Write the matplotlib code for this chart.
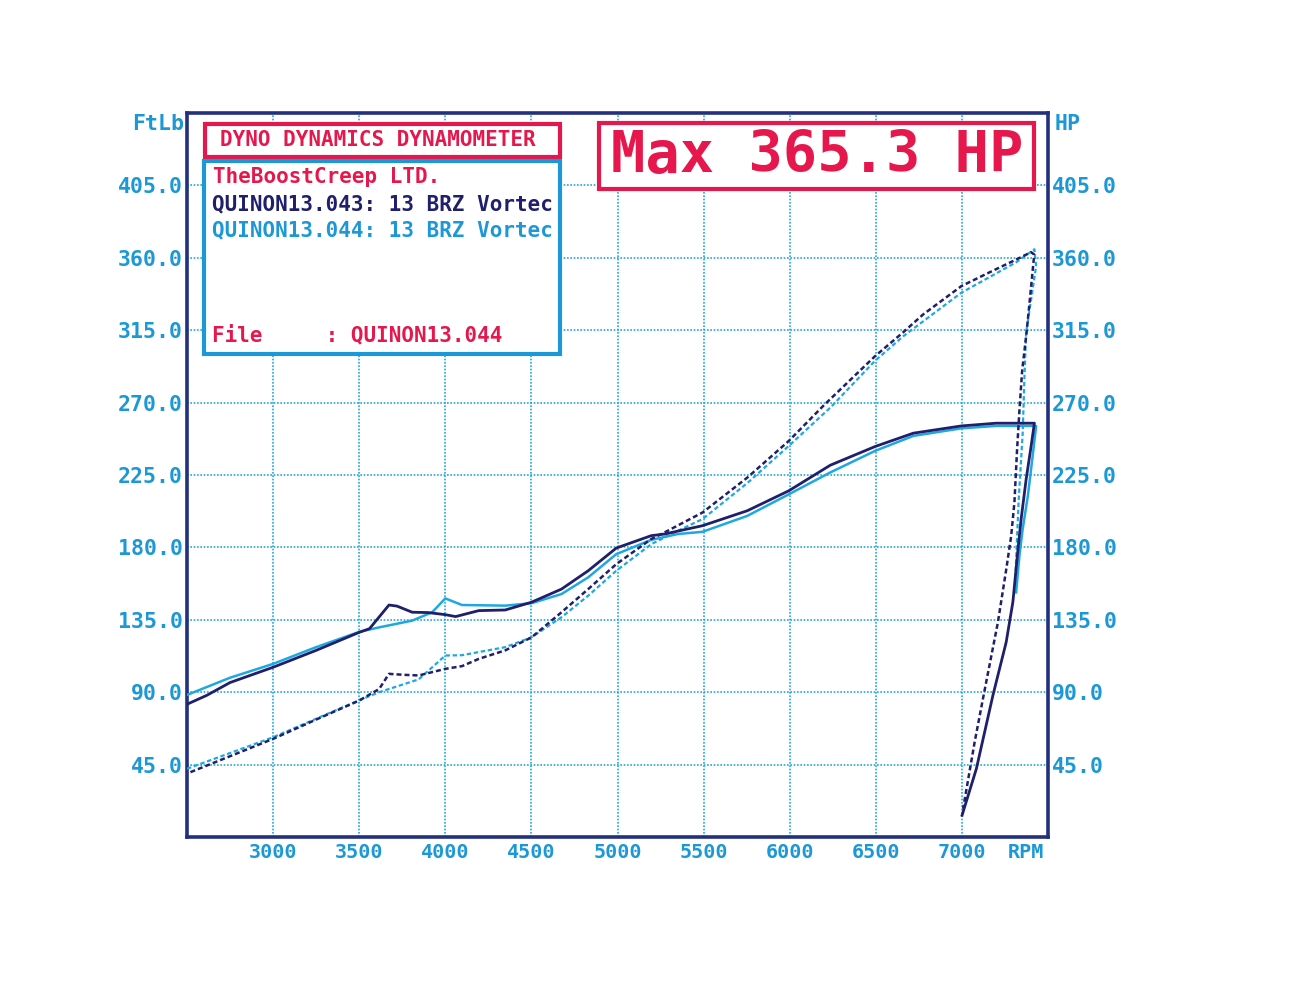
import matplotlib.pyplot as plt
from matplotlib.patches import Rectangle

# run QUINON13.043 (navy) - torque, ft-lb
rpm_tq_043 = [2500, 2614, 2750, 3000, 3250, 3500, 3560, 3673, 3720, 3808, 3900, 4000, 4060,
              4194, 4348, 4500, 4675, 4830, 4993, 5196, 5273, 5494, 5754, 5995, 6236, 6496,
              6718, 6997, 7199, 7421, 7402, 7373, 7344, 7324, 7296, 7257, 7180, 7084, 7001]
tq_043 = [82.5, 88, 96, 105.5, 116, 127.2, 129.5, 144.2, 143.5, 139.7, 139.5, 138.2, 137,
          140.7, 141.1, 145.9, 154.1, 165.5, 179.6, 187.3, 188.3, 193.5, 202.8, 215.2, 231.1, 242.7,
          251, 255.5, 257.2, 257.2, 243, 222.3, 197.6, 177, 146, 121, 88, 42.4, 13.5]

# run QUINON13.044 (cyan) - torque, ft-lb
rpm_tq_044 = [2500, 2750, 3000, 3250, 3500, 3616, 3808, 3924, 4000, 4097, 4348, 4500, 4675,
              4830, 4993, 5196, 5350, 5494, 5754, 5995, 6236, 6496, 6718, 6997, 7199, 7431,
              7411, 7383, 7353, 7334, 7315]
tq_044 = [88.3, 99, 107.6, 118, 127.5, 130.3, 134.5, 139.7, 148.3, 144.2, 143.8, 145.3, 151,
          161.4, 175.8, 184.7, 188.3, 189.7, 199.6, 213, 226.6, 240, 249.3, 254, 255.5, 255.5,
          236.8, 212, 191.4, 174.8, 152]

# power, hp
rpm_hp_043 = [2520, 3000, 3250, 3500, 3616, 3673, 3760, 3846, 4000, 4097, 4194, 4348, 4501,
              4675, 4830, 4993, 5196, 5273, 5494, 5754, 5995, 6198, 6496, 6660, 6775, 6997,
              7161, 7315, 7402, 7420, 7400, 7375, 7350, 7334, 7320, 7305, 7286, 7257, 7209,
              7126, 7074, 7007]
hp_043 = [40.3, 61, 73, 84.8, 92, 101.4, 100.8, 100.4, 104.5, 106.2, 110.7, 116, 124.1,
          139.7, 154.1, 169.6, 185.2, 189.3, 201.7, 223.4, 246.2, 268.3, 298.9, 313.8, 324.8, 342.4,
          351, 358.9, 363.5, 362, 340, 313, 290, 265, 240, 208, 187, 166, 133.4,
          88, 59, 17.6]

rpm_hp_044 = [2500, 3000, 3500, 3616, 3846, 4000, 4097, 4348, 4500, 4675, 4830, 4993, 5196,
              5350, 5494, 5754, 5995, 6236, 6496, 6660, 6997, 7315, 7421, 7431, 7373, 7363,
              7353, 7330, 7310]
hp_044 = [42.4, 62, 85, 90, 98, 112.8, 113, 118, 124.1, 136.6, 150, 165.5, 182,
          190.3, 197.6, 220, 243.1, 266.9, 296, 311.3, 338.3, 357.2, 365.3, 354.8, 313.5, 285,
          251, 210, 160]

x_ticks = [3000, 3500, 4000, 4500, 5000, 5500, 6000, 6500, 7000]
y_ticks = [45, 90, 135, 180, 225, 270, 315, 360, 405]

NAVY = '#1f1f6b'
CYAN = '#1fa8e0'
TXT = '#1b98d5'
RED = '#e5174d'
FRAME = '#22307e'
W, H = 1300, 1005

plt.rcParams['font.family'] = 'DejaVu Sans Mono'
plt.rcParams['font.weight'] = 'bold'

fig = plt.figure(figsize=(13, 10.05), dpi=100)
ax = fig.add_axes([187 / W, 1 - 837 / H, (1048 - 187) / W, (837 - 113) / H])
ax.set_xlim(2500, 7500)
ax.set_ylim(0, 450)

ax.plot(rpm_tq_044, tq_044, color=CYAN, lw=1.8, zorder=3)
ax.plot(rpm_tq_043, tq_043, color=NAVY, lw=2.0, zorder=4)
ax.plot(rpm_hp_044, hp_044, color=CYAN, lw=1.6, linestyle=(0, (2, 1.2)), zorder=3)
ax.plot(rpm_hp_043, hp_043, color=NAVY, lw=1.8, linestyle=(0, (2, 1.2)), zorder=4)

ax.set_xticks(x_ticks)
ax.set_xticklabels([str(t) for t in x_ticks], color=TXT, fontsize=14.5)
ax.set_yticks(y_ticks)
ax.set_yticklabels(['{:.1f}'.format(t) for t in y_ticks], color=TXT, fontsize=15.5)
ax.tick_params(length=0, pad=4)
ax.tick_params(axis='y', pad=3, labelright=True)
ax.grid(True, color=CYAN, linestyle=(0, (1, 1)), lw=1.2)
for s in ax.spines.values():
    s.set_color(FRAME)
    s.set_linewidth(2.6)

ax.text(7370, -0.0076, 'RPM', transform=ax.get_xaxis_transform(), ha='center', va='top',
        color=TXT, fontsize=14.5)
fig.text(184 / W, 1 - 124 / H, 'FtLb', ha='right', va='center', color=TXT, fontsize=15.5)
fig.text(1055 / W, 1 - 124 / H, 'HP', ha='left', va='center', color=TXT, fontsize=15.5)


def box(x0, y0, x1, y1, color):
    fig.patches.append(Rectangle((x0 / W, 1 - y1 / H), (x1 - x0) / W, (y1 - y0) / H,
                                 transform=fig.transFigure, fill=True, facecolor='white',
                                 edgecolor=color, lw=3, zorder=5))


box(205, 124, 560, 157, RED)
box(204, 161, 560, 354, TXT)
box(599, 123, 1034, 189, RED)

fig.text(378 / W, 1 - 140 / H, 'DYNO DYNAMICS DYNAMOMETER', ha='center', va='center',
         color=RED, fontsize=15, zorder=6)
fig.text(213 / W, 1 - 177 / H, 'TheBoostCreep LTD.', ha='left', va='center',
         color=RED, fontsize=15, zorder=6)
fig.text(212 / W, 1 - 204 / H, 'QUINON13.043: 13 BRZ Vortec', ha='left', va='center',
         color=NAVY, fontsize=15, zorder=6)
fig.text(212 / W, 1 - 230 / H, 'QUINON13.044: 13 BRZ Vortec', ha='left', va='center',
         color=TXT, fontsize=15, zorder=6)
fig.text(212 / W, 1 - 335 / H, 'File     : QUINON13.044', ha='left', va='center',
         color=RED, fontsize=15, zorder=6)
fig.text(817 / W, 1 - 157 / H, 'Max 365.3 HP', ha='center', va='center',
         color=RED, fontsize=41, zorder=6)

fig.savefig('out.png', dpi=100, facecolor='white')
